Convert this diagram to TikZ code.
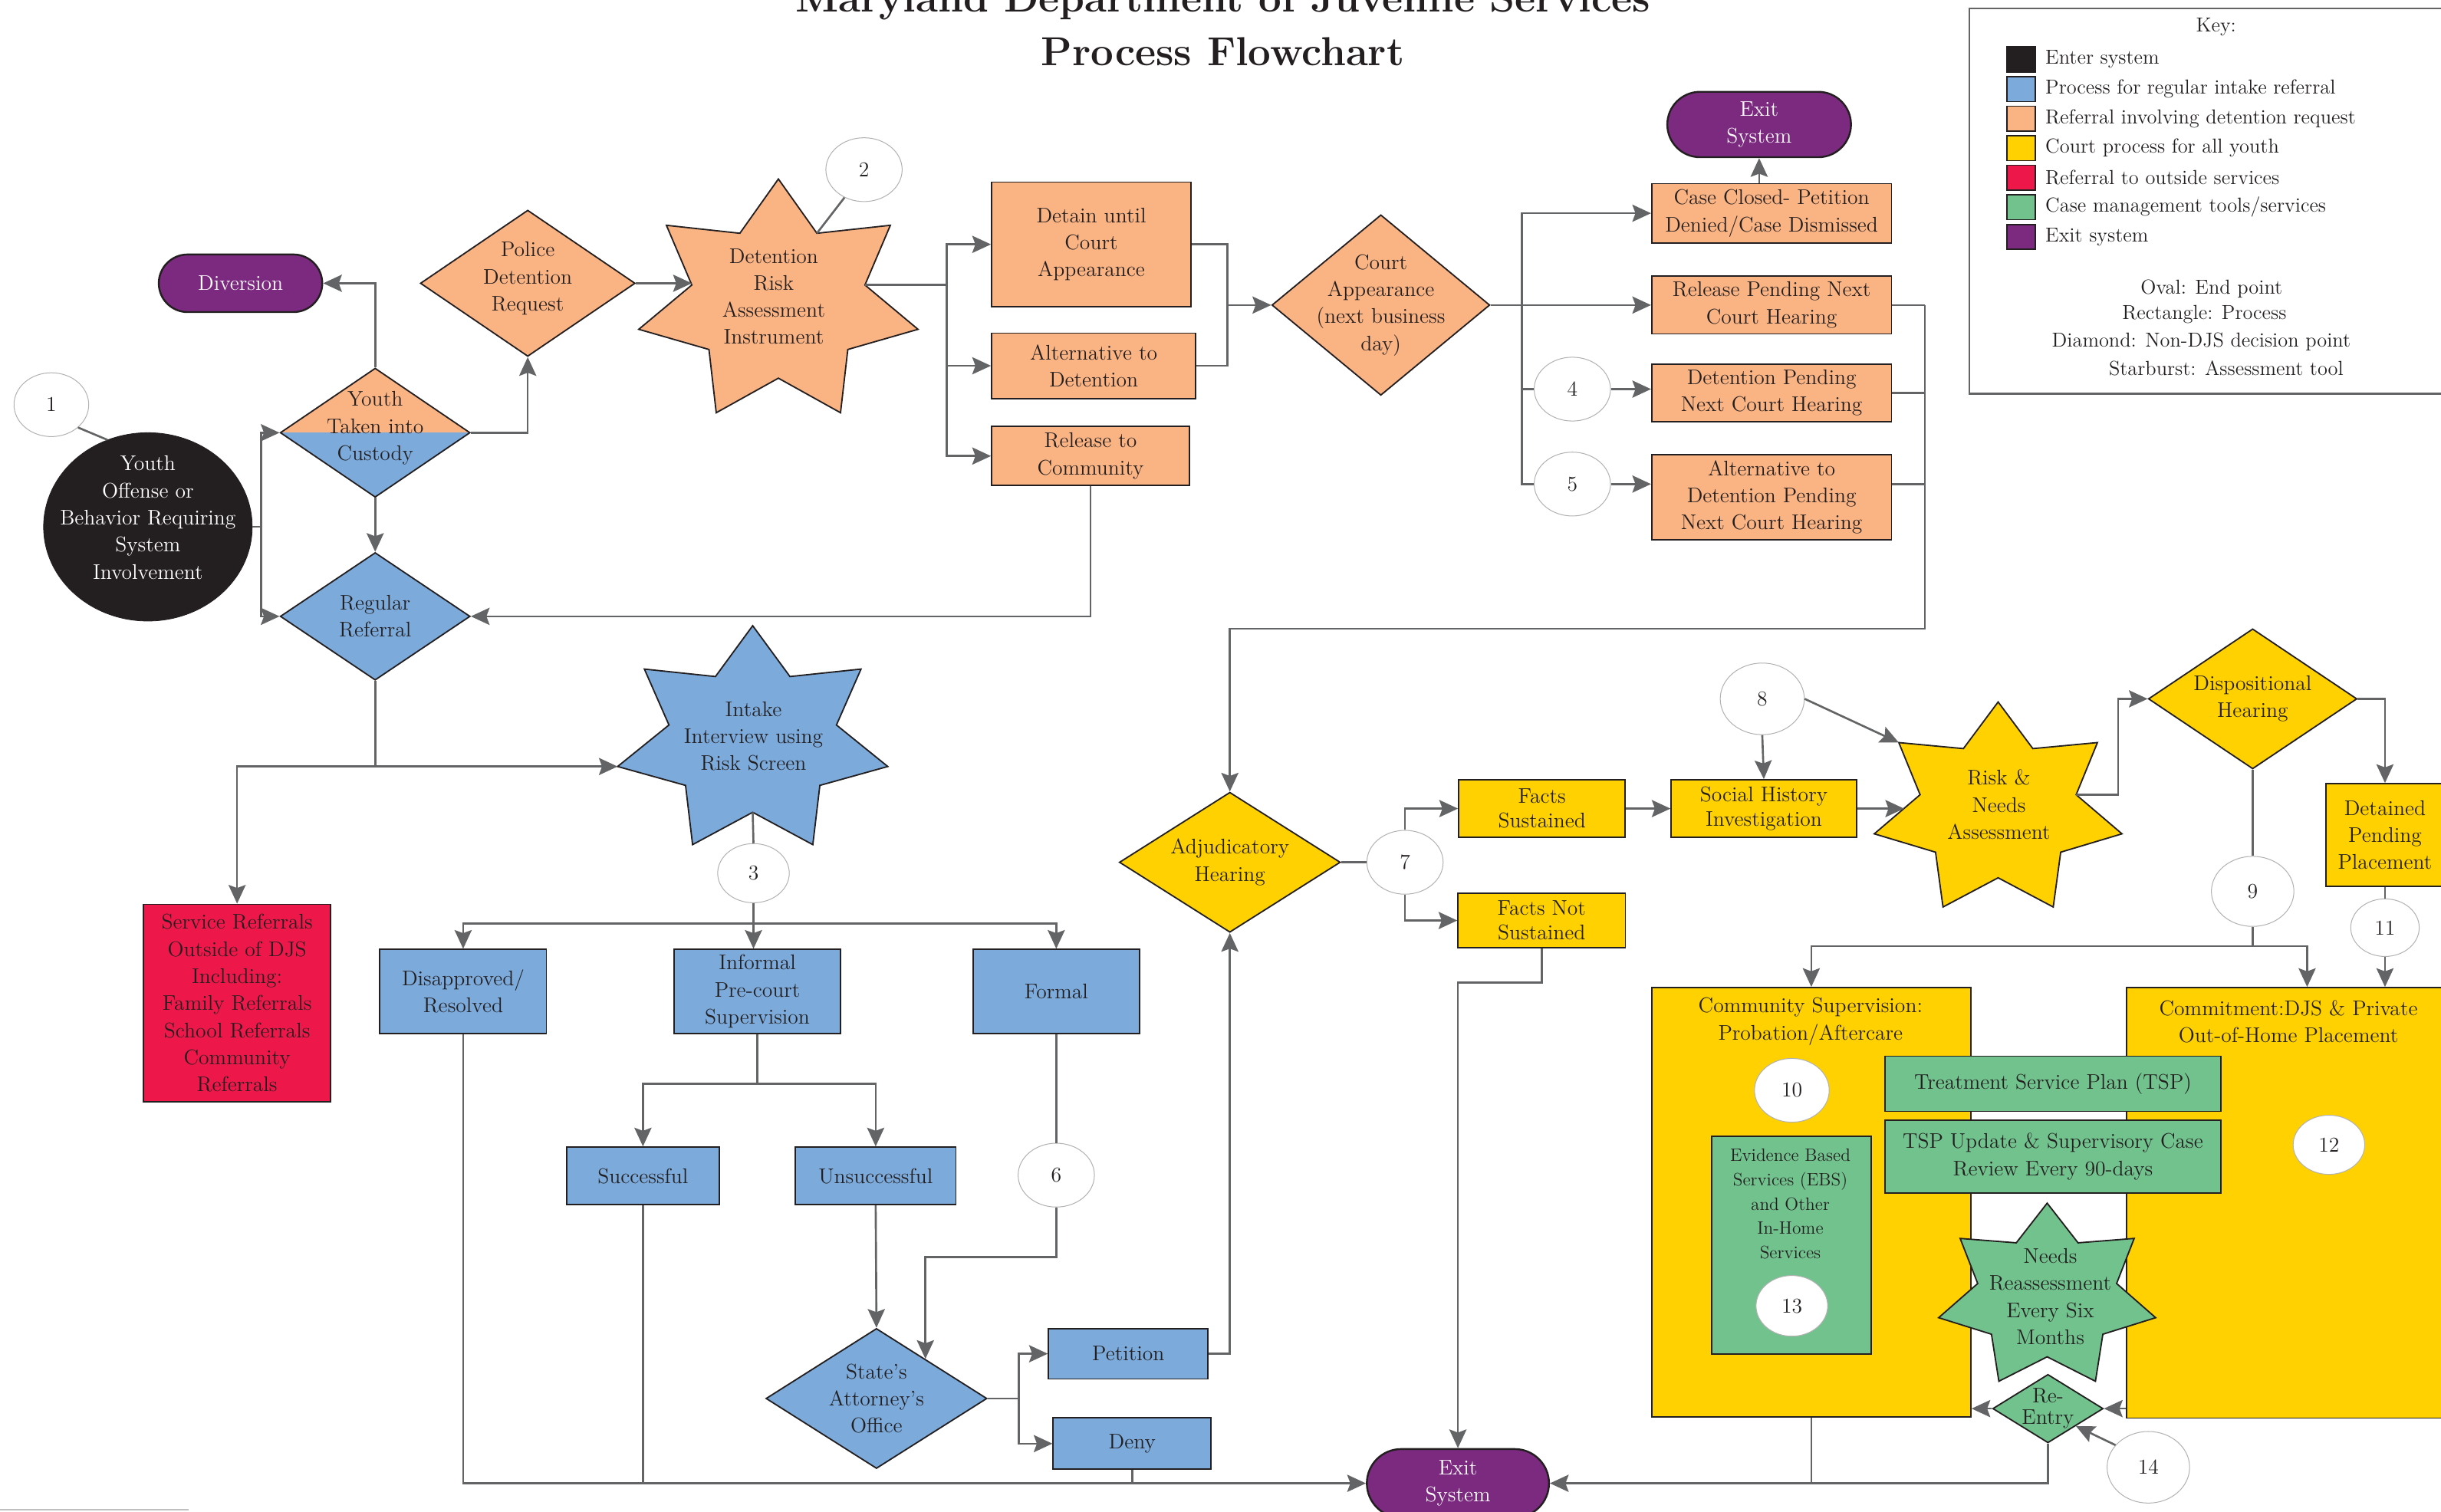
\documentclass[tikz,border=0pt]{standalone}
\usepackage{tikz}
\usetikzlibrary{arrows.meta,positioning,calc,shapes.geometric,shapes.misc}
\definecolor{ink}{HTML}{231F20}
\definecolor{lnk}{HTML}{636466}
\definecolor{blu}{HTML}{7BAADB}
\definecolor{org}{HTML}{FAB383}
\definecolor{yel}{HTML}{FFD100}
\definecolor{rd}{HTML}{ED1849}
\definecolor{grn}{HTML}{72C28E}
\definecolor{pur}{HTML}{7B2A80}
\tikzset{
  bdr/.style={draw=ink, line width=0.9pt},
  txt/.style={align=center, text=ink, font=\fontsize{13.6}{17.4}\selectfont, inner sep=0pt},
  ktxt/.style={align=center, text=ink, font=\fontsize{13}{17}\selectfont, inner sep=0pt},
  proc/.style={rectangle, bdr, txt},
  dec/.style={diamond, bdr, inner sep=0pt},
  endpt/.style={rounded rectangle, txt, draw=ink, line width=1.2pt, fill=pur, text=white},
  num/.style={ellipse, txt, draw=gray!60, line width=0.5pt, fill=white},
  keysw/.style={rectangle, draw=ink, line width=0.8pt, minimum width=18, minimum height=16, inner sep=0pt},
  ttl/.style={text=ink, font=\fontsize{26}{30}\selectfont\bfseries, inner sep=0pt},
  conn/.style={draw=lnk, line width=1.3pt},
  arr/.style={conn, ->},
}
% starburst: name, cx, cy, rx, ry, inner ratio, fill
\newcommand{\burst}[7]{%
  \foreach \k in {0,...,13}{
    \pgfmathsetmacro{\burstr}{ifthenelse(mod(\k,2)==0,1,#6)}
    \coordinate (#1-\k) at ({#2+\burstr*#4*cos(90+\k*360/14)},{#3-\burstr*#5*sin(90+\k*360/14)});
  }
  \draw[bdr, fill=#7] (#1-0) \foreach \k in {1,...,13}{-- (#1-\k)} -- cycle;
}

\begin{document}
\begin{tikzpicture}[x=1pt, y=-1pt, >={Stealth[length=12pt,width=11pt,inset=2pt]}]
  \useasboundingbox (0,0) rectangle (1568,971.4);
  % Title
  \node[ttl, anchor=base] (ttl1) at (785.5,7.5) {Maryland Department of Juvenile Services};
  \node[ttl, anchor=base] (ttl2) at (785.5,42) {Process Flowchart};

  % Key
  \draw[draw=lnk, line width=1.2pt] (1265,5.5) rectangle (1576,253);
  \node[ktxt] (keyh) at (1423.5,17.3) {Key:};
  \foreach \col/\txt [count=\i] in {ink/Enter system, blu/Process for regular intake referral,
      org/Referral involving detention request, yel/Court process for all youth,
      rd/Referral to outside services, grn/{Case management tools/services}, pur/Exit system}{
    \node[keysw, fill=\col] (ks\i) at (1298.3,{19.2+19*\i}) {};
    \node[ktxt, right=6pt of ks\i] (kt\i) {\txt};
  }
  \node[ktxt] (kl1) at (1420.6,185.7) {Oval: End point};
  \node[ktxt] (kl2) at (1416,201.8) {Rectangle: Process};
  \node[ktxt] (kl3) at (1414,219.4) {Diamond: Non-DJS decision point};
  \node[ktxt] (kl4) at (1430,236.7) {Starburst: Assessment tool};

  % Entry and detention request
  \node[ellipse, fill=ink, draw=ink, minimum width=134, minimum height=121,
    label={[txt, text=white, yshift=6]center:Youth\\Offense or\\Behavior Requiring\\System\\Involvement}] (yth) at (95,338.5) {};
  \node[num, minimum width=48, minimum height=41] (c1) at (33,260) {1};
  \node[dec, fill=blu, minimum width=122, minimum height=83,
    path picture={\fill[org] (path picture bounding box.north west) rectangle (path picture bounding box.east);},
    label={[txt, yshift=3]center:Youth\\Taken into\\Custody}] (ytc) at (241,278) {};
  \node[endpt, minimum width=105, minimum height=37] (div) at (154.5,182) {Diversion};
  \node[dec, fill=org, minimum width=138, minimum height=94,
    label={[txt, yshift=3]center:Police\\Detention\\Request}] (pdr) at (339,182) {};
  \burst{dra}{500}{194}{92}{79}{0.62}{org}
  \node[txt] (dra-t) at (497,190.5) {Detention\\Risk\\Assessment\\Instrument};
  \node[num, minimum width=49, minimum height=41] (c2) at (555,109) {2};
  \node[proc, fill=org, minimum width=128, minimum height=80] (det) at (701,157) {Detain until\\Court\\Appearance};
  \node[proc, fill=org, minimum width=131, minimum height=42] (alt) at (702.5,235) {Alternative to\\Detention};
  \node[proc, fill=org, minimum width=127, minimum height=38] (rel) at (700.5,293) {Release to\\Community};
  \node[dec, fill=org, minimum width=140, minimum height=116,
    label={[txt]center:Court\\Appearance\\(next business\\day)}] (cap) at (887,196) {};
  \node[endpt, minimum width=118, minimum height=42] (ex1) at (1130,80) {Exit\\System};
  \node[proc, fill=org, minimum width=154, minimum height=38] (ccl) at (1138,137) {Case Closed- Petition\\Denied/Case Dismissed};
  \node[proc, fill=org, minimum width=154, minimum height=37] (rpn) at (1138,196) {Release Pending Next\\Court Hearing};
  \node[proc, fill=org, minimum width=154, minimum height=37] (dpn) at (1138,252.5) {Detention Pending\\Next Court Hearing};
  \node[proc, fill=org, minimum width=154, minimum height=55] (apn) at (1138,319.5) {Alternative to\\Detention Pending\\Next Court Hearing};
  \node[num, minimum width=49, minimum height=41] (c4) at (1010,250) {4};
  \node[num, minimum width=49, minimum height=41] (c5) at (1010,311) {5};

  % Regular referral
  \node[dec, fill=blu, minimum width=122, minimum height=82,
    label={[txt]center:Regular\\Referral}] (rr) at (241,396) {};
  \burst{int}{483.5}{476}{89}{74}{0.62}{blu}
  \node[txt] (int-t) at (484,473) {Intake\\Interview using\\Risk Screen};
  \node[proc, fill=rd, minimum width=120, minimum height=127] (srv) at (152.3,644.5)
    {Service Referrals\\Outside of DJS\\Including:\\Family Referrals\\School Referrals\\Community\\Referrals};
  \node[num, minimum width=46, minimum height=38] (c3) at (484,561) {3};
  \node[proc, fill=blu, minimum width=107, minimum height=54] (dis) at (297.5,637) {Disapproved/\\Resolved};
  \node[proc, fill=blu, minimum width=107, minimum height=54] (inf) at (486.5,637) {Informal\\Pre-court\\Supervision};
  \node[proc, fill=blu, minimum width=107, minimum height=54] (frm) at (678.5,637) {Formal};
  \node[proc, fill=blu, minimum width=98, minimum height=37] (suc) at (413,755.5) {Successful};
  \node[proc, fill=blu, minimum width=103, minimum height=37] (uns) at (562.5,755.5) {Unsuccessful};
  \node[num, minimum width=49, minimum height=41] (c6) at (678.5,755) {6};
  \node[dec, fill=blu, minimum width=142, minimum height=90,
    label={[txt]center:State’s\\Attorney’s\\Office}] (sao) at (563,898.5) {};
  \node[proc, fill=blu, minimum width=102.5, minimum height=32.5] (pet) at (724.75,869.75) {Petition};
  \node[proc, fill=blu, minimum width=101.5, minimum height=33] (den) at (727.25,927.5) {Deny};
  \node[endpt, minimum width=117, minimum height=44] (ex2) at (936.5,953) {Exit\\System};

  % Court process
  \node[dec, fill=yel, minimum width=142, minimum height=90,
    label={[txt]center:Adjudicatory\\Hearing}] (adj) at (790,554) {};
  \node[num, minimum width=49, minimum height=41] (c7) at (902.5,554) {7};
  \node[proc, fill=yel, minimum width=107, minimum height=37, font=\fontsize{13.6}{16}\selectfont] (fs) at (990.5,519.5) {Facts\\Sustained};
  \node[proc, fill=yel, minimum width=107.5, minimum height=35, font=\fontsize{13.6}{16}\selectfont] (fns) at (990.3,591.4) {Facts Not\\Sustained};
  \node[proc, fill=yel, minimum width=119, minimum height=37, font=\fontsize{13.6}{16}\selectfont] (shi) at (1133,519.5) {Social History\\Investigation};
  \node[num, minimum width=54, minimum height=46] (c8) at (1132,449) {8};
  \burst{rna}{1283.5}{520.3}{81.6}{69.3}{0.63}{yel}
  \node[txt] (rna-t) at (1284,517) {Risk \&\\Needs\\Assessment};
  \node[dec, fill=yel, minimum width=134, minimum height=90,
    label={[txt]center:Dispositional\\Hearing}] (dsp) at (1447,449) {};
  \node[proc, fill=yel, minimum width=76, minimum height=66] (dpp) at (1532,536.5) {Detained\\Pending\\Placement};
  \node[num, minimum width=53, minimum height=45] (c9) at (1447,572.7) {9};
  \node[num, minimum width=44, minimum height=37] (c11) at (1532,596) {11};
  \node[proc, fill=yel, minimum width=205, minimum height=276] (csp) at (1163.5,772.5) {};
  \node[txt] (csp-t) at (1163,656.2) {Community Supervision:\\Probation/Aftercare};
  \node[proc, fill=yel, minimum width=210, minimum height=276.5] (cmt) at (1471,772.8) {};
  \node[txt] (cmt-t) at (1470,656.5) {Commitment:DJS \& Private\\Out-of-Home Placement};
  \node[num, minimum width=48, minimum height=41] (c10) at (1151,700.5) {10};
  \node[num, minimum width=46, minimum height=38] (c12) at (1496,735.5) {12};
  \node[proc, fill=grn, minimum width=102.5, minimum height=140] (ebs) at (1150.75,800) {};
  \node[txt, font=\fontsize{11.5}{15.7}\selectfont] (ebs-t) at (1150,773.5) {Evidence Based\\Services (EBS)\\and Other\\In-Home\\Services};
  \node[num, minimum width=46, minimum height=39] (c13) at (1151,839) {13};
  \node[proc, fill=grn, minimum width=215.4, minimum height=35.4] (tsp) at (1318.7,696.3) {Treatment Service Plan (TSP)};
  \node[proc, fill=grn, minimum width=215.4, minimum height=46.8] (tspu) at (1318.7,743.1) {TSP Update \& Supervisory Case\\Review Every 90-days};
  \burst{nra}{1315}{833.2}{71.5}{60.2}{0.64}{grn}
  \node[txt] (nra-t) at (1317,833) {Needs\\Reassessment\\Every Six\\Months};
  \node[dec, fill=grn, minimum width=71, minimum height=44,
    label={[txt, font=\fontsize{13.6}{14}\selectfont]center:Re-\\Entry}] (ren) at (1315.5,905) {};
  \node[num, minimum width=53, minimum height=46] (c14) at (1380,942.7) {14};

  % Connectors: entry
  \draw[conn] (c1.south east) -- (yth.115);
  \draw[conn] (yth.east) -- ++(5.5,0) coordinate (j1);
  \draw[arr] (j1) |- (ytc.west);
  \draw[arr] (j1) |- (rr.west);
  \draw[arr] (ytc.north) |- (div.east);
  \draw[arr] (ytc.east) -| (pdr.south);
  \draw[arr] (ytc.south) -- (rr.north);
  \draw[arr] (pdr.east) -- (pdr.east -| dra-3);
  \draw[conn] (c2.235) -- (dra-13);
  % Connectors: detention
  \draw[conn] (dra-11) -- ++(52.4,0) coordinate (j2);
  \draw[arr] (j2) |- (det.west);
  \draw[arr] (j2) |- (alt.west);
  \draw[arr] (j2) |- (rel.west);
  \draw[conn] (det.east) -- ++(23,0) coordinate (j3) |- (alt.east);
  \draw[arr] (j3 |- cap.west) -- (cap.west);
  \draw[conn] (cap.east) -- ++(20,0) coordinate (j4);
  \draw[arr] (j4) |- (ccl.west);
  \draw[arr] (j4) -- (rpn.west);
  \draw[conn] (j4) |- (c5.west);
  \draw[conn] (j4 |- c4.west) -- (c4.west);
  \draw[arr] (c4.east) -- (c4.east -| dpn.west);
  \draw[arr] (c5.east) -- (c5.east -| apn.west);
  \draw[arr] (ccl.north -| ex1.south) -- (ex1.south);
  \draw[conn] (rpn.east) -- ++(21,0) coordinate (j5);
  \draw[conn] (dpn.east) -- (dpn.east -| j5);
  \draw[conn] (apn.east |- c5) -- (j5 |- c5);
  \draw[arr] (j5) -- ++(0,208) -| (adj.north);
  \draw[arr] (rel.south) |- (rr.east);
  % Connectors: regular referral
  \draw[conn] (rr.south) -- (rr.south |- int-4) coordinate (j6);
  \draw[arr] (j6) -- (int-4);
  \draw[arr] (j6) -| (srv.north);
  \draw[conn] (int-7) -- (c3.north);
  \draw[conn] (c3.south) -- ++(0,13) coordinate (j7);
  \draw[arr] (j7) -- (j7 |- inf.north);
  \draw[arr] (j7) -| (dis.north);
  \draw[arr] (j7) -| (frm.north);
  \draw[conn] (inf.south) -- ++(0,32) coordinate (j8);
  \draw[arr] (j8) -| (suc.north);
  \draw[arr] (j8) -| (uns.north);
  \draw[conn] (frm.south) -- (c6.north);
  \coordinate (sa-in) at ($(sao.north)!0.44!(sao.east)$);
  \draw[arr] (c6.south) -- ++(0,32) -| (sa-in);
  \draw[arr] (uns.south) -- (sao.north);
  \draw[conn] (sao.east) -- ++(20,0) coordinate (j9);
  \draw[arr] (j9) |- (pet.west);
  \draw[arr] (j9) |- (den.west);
  \draw[arr] (pet.east) -| (adj.south);
  \draw[arr] (dis.south) |- (ex2.west);
  \draw[conn] (suc.south) -- (suc.south |- ex2.west);
  \draw[conn] (den.south) -- (den.south |- ex2.west);
  % Connectors: court
  \draw[conn] (adj.east) -- (c7.west);
  \draw[arr] (c7.north) |- (fs.west);
  \draw[arr] (c7.south) |- (fns.west);
  \draw[arr] (fns.south) -- ++(0,22) -| (ex2.north);
  \draw[arr] (fs.east) -- (shi.west);
  \draw[arr] (c8.south) -- (shi.north);
  \draw[arr] (c8.east) -- (rna-2);
  \coordinate (rn-in) at ($(rna-3)!0.35!(rna-4)$);
  \draw[arr] (shi.east) -- (shi.east -| rn-in);
  \draw[arr] (rna-11) -- ++(27,0) |- (dsp.west);
  \draw[arr] (dsp.east) -| (dpp.north);
  \draw[conn] (dsp.south) -- (c9.north);
  \draw[conn] (c9.south) -- ++(0,12.5) coordinate (j10);
  \draw[arr] (j10) -| (csp.north);
  \draw[arr] (j10) -| ([xshift=11]cmt.north);
  \draw[conn] (dpp.south) -- (c11.north);
  \draw[arr] (c11.south) -- (c11.south |- cmt.north);
  \draw[arr] (ren.west) -- (ren.west -| csp.east);
  \draw[arr] (cmt.west |- ren.east) -- (ren.east);
  \coordinate (re-in) at ($(ren.south)!0.5!(ren.east)$);
  \draw[arr] (c14.146) -- (re-in);
  \draw[arr] (ren.south) |- (ex2.east);
  \draw[conn] (csp.south) -- (csp.south |- ex2.east);

  % Footnote rule
  \draw[gray!50, line width=0.8pt] (0,970) -- (121,970);
\end{tikzpicture}
\end{document}
